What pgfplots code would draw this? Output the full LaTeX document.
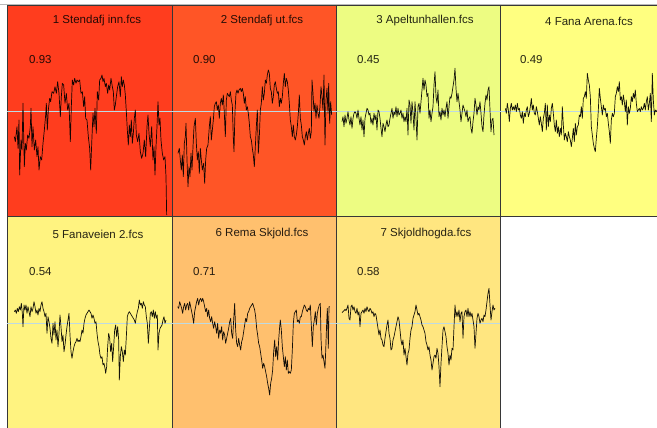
\documentclass[border=0pt]{standalone}
\usepackage{pgfplots}
\pgfplotsset{compat=1.18}
\usepackage{fontspec}
\setmainfont{Liberation Sans}
\definecolor{c1}{RGB}{255,61,30}
\definecolor{c2}{RGB}{255,85,38}
\definecolor{c3}{RGB}{237,252,130}
\definecolor{c4}{RGB}{255,255,128}
\definecolor{c5}{RGB}{255,243,128}
\definecolor{c6}{RGB}{255,192,110}
\definecolor{c7}{RGB}{255,230,128}
\definecolor{refc}{RGB}{190,218,226}
\definecolor{framec}{RGB}{55,55,55}
\pgfplotsset{
  panel/.style={scale only axis, y dir=reverse, xtick=\empty, ytick=\empty,
    anchor=north west, axis line style={draw=framec, line width=0.8pt},
    clip=true},
  series/.style={black, line width=0.7pt, line join=round, no markers, opacity=0.92},
  refl/.style={refc, line width=1.2pt, no markers},
}
\newcommand{\ttl}[3]{\node[font=\fontsize{11.5}{13}\selectfont, text=black, text opacity=0.85, anchor=center] at (#1pt,-#2pt) {#3};}
\newcommand{\val}[3]{\node[font=\fontsize{11.5}{13}\selectfont, text=black, text opacity=0.85, anchor=west, inner sep=0pt] at (#1pt,-#2pt) {#3};}
\begin{document}
\begin{tikzpicture}
\useasboundingbox (0pt,0pt) rectangle (657pt,-428pt);
\clip (0pt,0pt) rectangle (657pt,-428pt);
\fill[white] (0pt,0pt) rectangle (657pt,-428pt);
% Panel 1
\begin{axis}[panel, at={(7pt,-5pt)}, width=165pt, height=211.5pt,
  xmin=0, xmax=495, ymin=-165, ymax=469.5, axis background/.style={fill=c1}]
\addplot[refl] coordinates {(0,155) (495,155)};
\addplot[series] coordinates {
(22,230) (25,245) (30,200) (33,265) (36,180) (38,345) (42,240) (45,270) (48,130) (52,320) (55,250) (58,270) (62,225) (66,235) (70,200) (72,145) (75,260) (78,200) (82,270) (86,240) (90,290) (93,260) (96,330) (100,290) (104,300) (108,250) (112,210) (116,165) (118,130) (121,210) (124,150) (128,115) (131,125) (135,95) (140,100) (144,80) (148,100) (152,65) (156,100) (160,170) (163,110) (166,70) (170,75) (174,130) (178,100) (182,150) (186,130) (190,245) (193,140) (196,60) (200,75) (203,55) (207,70) (210,60) (214,65) (218,60) (222,100) (226,95) (230,140) (233,110) (236,175) (240,180) (244,230) (248,265) (251,330) (255,230) (258,160) (261,200) (264,145) (268,220) (271,95) (275,120) (278,60) (282,55) (285,45) (288,65) (291,55) (295,80) (298,70) (302,100) (305,75) (308,90) (312,55) (316,80) (319,95) (322,150) (325,135) (328,110) (332,80) (336,65) (340,110) (343,50) (346,80) (349,60) (352,75) (355,105) (358,155) (361,210) (364,255) (367,195) (370,230) (373,180) (376,250) (379,220) (382,175) (385,150) (388,225) (392,245) (396,220) (400,275) (404,295) (408,280) (412,240) (416,290) (420,200) (423,165) (426,220) (430,260) (434,200) (438,300) (441,260) (444,345) (447,260) (450,200) (453,125) (456,195) (459,175) (462,240) (466,280) (470,300) (474,290) (477,350) (479,465)
};
\end{axis}
% Panel 2
\begin{axis}[panel, at={(172pt,-5pt)}, width=164pt, height=211.5pt,
  xmin=0, xmax=492, ymin=-165, ymax=469.5, axis background/.style={fill=c2}]
\addplot[refl] coordinates {(0,155) (492,155)};
\addplot[series] coordinates {
(18,280) (22,265) (25,300) (28,330) (31,285) (34,350) (37,250) (40,230) (42,190) (45,300) (48,380) (51,320) (54,350) (57,280) (60,330) (63,260) (66,200) (70,175) (73,250) (76,300) (79,275) (82,340) (85,265) (88,300) (91,330) (95,310) (98,370) (101,300) (104,265) (108,255) (112,200) (115,170) (118,240) (121,210) (124,180) (127,140) (130,130) (133,125) (136,150) (139,135) (142,175) (145,130) (148,115) (151,135) (154,105) (157,160) (160,230) (163,120) (166,100) (169,105) (172,110) (175,95) (178,120) (181,135) (184,235) (186,275) (189,155) (192,100) (195,90) (198,100) (201,90) (205,85) (208,95) (211,85) (214,100) (217,130) (220,110) (223,150) (226,140) (229,160) (232,190) (235,230) (238,240) (241,265) (244,285) (247,320) (250,260) (253,200) (256,150) (259,280) (262,230) (265,150) (268,130) (271,80) (274,120) (277,100) (280,60) (283,70) (286,45) (289,30) (292,40) (295,85) (298,95) (301,130) (304,110) (307,75) (310,65) (313,85) (316,100) (319,95) (322,140) (325,115) (328,130) (331,110) (334,70) (337,40) (340,80) (343,55) (346,65) (349,90) (352,130) (355,180) (358,200) (361,230) (364,195) (367,230) (370,240) (373,225) (376,200) (379,160) (382,105) (385,175) (388,195) (391,230) (394,240) (397,255) (400,230) (403,215) (406,240) (409,220) (412,205) (415,235) (418,215) (420,60) (423,100) (426,155) (429,130) (432,175) (435,135) (438,160) (441,175) (444,140) (447,80) (450,110) (453,150) (456,45) (459,255) (462,120) (465,85) (468,160) (470,70) (473,190) (476,125) (479,165)
};
\end{axis}
% Panel 3
\begin{axis}[panel, at={(336pt,-5pt)}, width=164pt, height=211.5pt,
  xmin=0, xmax=492, ymin=-165, ymax=469.5, axis background/.style={fill=c3}]
\addplot[refl] coordinates {(0,155) (492,155)};
\addplot[series] coordinates {
(18,185) (21,170) (24,200) (27,165) (30,190) (33,175) (36,155) (39,180) (42,195) (45,170) (48,205) (51,175) (54,160) (57,155) (60,160) (63,175) (66,150) (69,175) (72,195) (75,170) (78,210) (81,180) (84,230) (87,175) (90,160) (93,145) (96,150) (99,165) (102,160) (105,190) (108,175) (111,195) (114,160) (117,180) (120,165) (123,210) (126,150) (129,155) (132,175) (135,205) (138,230) (141,190) (144,200) (147,215) (150,195) (153,180) (156,200) (159,195) (162,175) (165,160) (168,145) (171,175) (174,155) (177,165) (180,140) (183,170) (186,145) (189,165) (192,160) (195,150) (198,175) (201,160) (204,185) (207,170) (210,185) (213,145) (216,225) (219,120) (222,135) (225,190) (228,125) (231,160) (234,210) (237,125) (240,175) (243,240) (246,140) (249,130) (252,160) (255,125) (258,90) (261,55) (264,90) (267,60) (270,75) (273,110) (276,100) (279,175) (282,150) (285,185) (288,160) (291,140) (294,75) (297,35) (300,110) (303,130) (306,90) (309,170) (312,155) (315,180) (318,145) (321,165) (324,150) (327,170) (330,145) (333,125) (336,175) (339,140) (342,110) (345,115) (348,100) (351,80) (354,60) (357,25) (360,85) (363,125) (366,100) (369,125) (372,150) (375,185) (378,160) (381,135) (384,145) (387,155) (390,170) (393,150) (396,185) (399,175) (402,170) (405,205) (408,220) (411,185) (414,160) (417,115) (420,135) (423,165) (426,140) (429,150) (432,125) (435,160) (438,200) (441,215) (444,165) (447,130) (450,105) (453,120) (456,90) (459,80) (462,150) (465,215) (468,180) (471,175) (474,225)
};
\end{axis}
% Panel 4
\begin{axis}[panel, at={(500pt,-5pt)}, width=164pt, height=211.5pt,
  xmin=492, xmax=984, ymin=-165, ymax=469.5, axis background/.style={fill=c4}]
\addplot[refl] coordinates {(492,155) (984,155)};
\addplot[series] coordinates {
(508,145) (511,160) (514,130) (517,150) (520,185) (523,145) (526,130) (529,150) (532,140) (535,150) (538,135) (541,155) (544,130) (547,150) (550,145) (553,165) (556,175) (559,155) (562,190) (565,160) (568,170) (571,150) (574,140) (577,170) (580,160) (583,140) (586,115) (589,150) (592,135) (595,160) (598,165) (601,140) (604,155) (607,175) (610,195) (613,170) (616,190) (619,215) (622,175) (625,160) (628,130) (631,210) (634,135) (637,200) (640,165) (643,185) (646,145) (649,130) (652,160) (655,195) (658,215) (661,180) (664,220) (667,200) (670,230) (673,205) (676,225) (679,140) (682,195) (685,240) (688,220) (691,230) (694,245) (697,215) (700,230) (703,240) (706,260) (709,235) (712,205) (715,245) (718,190) (721,225) (724,200) (727,195) (730,165) (733,170) (736,140) (739,175) (742,115) (745,110) (748,95) (751,115) (754,40) (757,60) (760,75) (763,110) (766,200) (769,225) (772,250) (775,265) (778,275) (781,235) (784,200) (787,150) (790,85) (793,115) (796,140) (799,165) (802,135) (805,150) (808,145) (811,170) (814,160) (817,190) (820,215) (823,250) (826,180) (829,160) (832,170) (835,160) (838,110) (841,100) (844,80) (847,95) (850,65) (853,120) (856,110) (859,135) (862,105) (865,125) (868,155) (871,120) (874,195) (877,140) (880,160) (883,145) (886,110) (889,125) (892,100) (895,115) (898,90) (901,130) (904,155) (907,150) (910,145) (913,155) (916,140) (919,150) (922,145) (925,130) (928,150) (931,125) (934,110) (937,150) (940,130) (943,100) (946,185) (949,40) (952,120) (955,165) (958,150) (961,155) (964,150)
};
\end{axis}
% Panel 5
\begin{axis}[panel, at={(7pt,-216.5pt)}, width=165pt, height=223.5pt,
  xmin=0, xmax=495, ymin=-190.5, ymax=480, axis background/.style={fill=c5}]
\addplot[refl] coordinates {(0,131) (495,131)};
\addplot[series] coordinates {
(22,95) (25,90) (28,100) (31,85) (34,95) (37,80) (40,90) (43,70) (46,100) (48,140) (51,75) (54,90) (57,75) (60,100) (63,80) (66,95) (69,110) (72,80) (75,95) (78,85) (81,65) (84,80) (87,100) (90,90) (93,105) (96,85) (99,95) (102,75) (105,65) (108,85) (111,95) (114,110) (117,100) (120,160) (123,110) (126,125) (129,145) (132,175) (135,190) (138,130) (141,165) (144,125) (147,180) (150,150) (153,200) (156,160) (159,105) (162,140) (165,185) (168,165) (171,215) (174,195) (177,165) (180,140) (183,120) (186,100) (189,165) (192,215) (195,235) (198,215) (201,200) (204,190) (207,185) (210,175) (213,185) (216,180) (219,185) (222,170) (225,150) (228,160) (231,130) (234,115) (237,105) (240,100) (243,95) (246,90) (249,95) (252,100) (255,115) (258,105) (261,115) (264,130) (267,125) (270,160) (273,185) (276,200) (279,225) (282,235) (285,230) (288,255) (291,250) (294,265) (296,280) (299,260) (302,200) (305,160) (308,175) (311,215) (314,190) (317,245) (320,200) (323,150) (326,135) (329,170) (332,140) (335,180) (337,300) (340,230) (343,200) (346,215) (349,245) (352,210) (355,225) (358,170) (361,110) (364,100) (367,95) (370,100) (373,105) (376,110) (379,115) (382,120) (385,130) (388,110) (391,95) (394,85) (397,60) (400,75) (403,70) (406,85) (409,65) (412,75) (415,80) (418,110) (421,130) (424,190) (427,145) (430,100) (433,95) (436,110) (439,90) (442,115) (445,95) (448,115) (451,105) (453,210) (456,160) (459,145) (462,140) (465,135) (468,120) (471,110) (474,130) (477,120)
};
\end{axis}
% Panel 6
\begin{axis}[panel, at={(172pt,-216.5pt)}, width=164pt, height=223.5pt,
  xmin=495, xmax=987, ymin=-190.5, ymax=480, axis background/.style={fill=c6}]
\addplot[refl] coordinates {(495,131) (987,131)};
\addplot[series] coordinates {
(512,80) (515,85) (518,65) (521,75) (524,85) (527,100) (530,80) (533,70) (536,90) (539,75) (542,70) (545,90) (548,65) (551,80) (554,95) (557,110) (560,130) (563,95) (566,80) (569,65) (572,55) (575,75) (578,60) (581,55) (584,65) (587,55) (590,65) (593,80) (596,95) (599,85) (602,110) (605,90) (608,115) (611,125) (614,110) (617,130) (620,145) (623,125) (626,140) (629,160) (632,130) (635,175) (638,150) (641,160) (644,140) (647,180) (650,155) (653,165) (656,190) (659,175) (662,160) (665,145) (668,125) (671,115) (674,160) (677,175) (680,120) (683,70) (686,150) (689,190) (692,200) (695,175) (698,195) (701,210) (704,185) (707,175) (710,155) (713,135) (716,115) (719,125) (722,100) (725,95) (728,85) (731,80) (734,75) (737,70) (740,80) (743,90) (746,110) (749,145) (752,165) (755,190) (758,200) (761,220) (764,240) (767,265) (770,250) (773,260) (776,275) (779,290) (782,310) (785,325) (788,345) (791,310) (794,295) (797,270) (800,215) (803,180) (806,230) (809,200) (812,240) (815,180) (818,140) (820,120) (823,150) (826,200) (829,230) (832,260) (835,230) (838,270) (841,240) (844,280) (847,275) (850,280) (853,270) (856,210) (859,130) (862,100) (865,95) (868,90) (871,125) (874,120) (877,130) (880,110) (883,110) (886,95) (889,85) (892,75) (895,80) (898,90) (901,95) (904,85) (907,90) (910,75) (913,135) (916,200) (919,140) (922,120) (925,95) (928,135) (931,100) (934,85) (937,75) (940,70) (942,175) (945,235) (948,225) (951,245) (954,265) (956,215) (959,130) (961,85) (964,205) (966,80) (969,80)
};
\end{axis}
% Panel 7
\begin{axis}[panel, at={(336pt,-216.5pt)}, width=164pt, height=223.5pt,
  xmin=0, xmax=492, ymin=-190.5, ymax=480, axis background/.style={fill=c7}]
\addplot[refl] coordinates {(0,131) (492,131)};
\addplot[series] coordinates {
(18,98) (21,95) (24,92) (27,88) (30,92) (33,85) (36,75) (39,115) (42,120) (45,80) (48,75) (51,90) (54,80) (57,95) (60,100) (63,85) (66,105) (69,95) (72,140) (75,100) (78,95) (81,90) (84,100) (87,85) (90,95) (93,80) (96,90) (99,95) (102,85) (105,90) (108,100) (111,95) (114,110) (117,100) (120,105) (123,125) (126,145) (129,165) (132,150) (135,175) (138,180) (141,195) (144,200) (147,175) (150,155) (153,135) (156,120) (159,160) (162,175) (165,210) (168,205) (171,180) (174,170) (177,155) (180,140) (183,125) (186,110) (189,120) (192,150) (195,180) (198,195) (201,180) (204,225) (207,205) (210,230) (213,255) (216,220) (219,210) (222,175) (225,150) (228,140) (231,115) (234,105) (237,95) (240,75) (243,90) (246,105) (249,100) (252,110) (255,120) (258,135) (261,140) (264,150) (267,160) (270,185) (273,195) (276,210) (279,200) (282,225) (285,240) (288,270) (291,250) (294,230) (297,225) (300,235) (303,205) (306,220) (309,260) (312,320) (315,250) (318,200) (321,150) (324,140) (327,155) (330,170) (333,200) (336,220) (339,255) (342,225) (345,240) (348,205) (351,210) (354,140) (357,75) (360,110) (363,95) (366,110) (369,90) (372,125) (375,100) (378,95) (381,175) (384,110) (387,95) (390,90) (393,110) (396,85) (399,110) (402,95) (405,110) (408,100) (411,120) (414,140) (417,205) (420,160) (423,115) (426,100) (429,110) (432,130) (435,120) (438,115) (441,125) (444,105) (447,110) (450,90) (453,65) (456,40) (459,25) (462,75) (465,120) (468,95) (471,75) (474,90) (477,85)
};
\end{axis}
\draw[gray!55, line width=0.8pt] (0pt,-4.5pt) -- (657pt,-4.5pt);
% texts
\ttl{97}{21}{1 Stendafj inn.fcs}
\ttl{262}{21}{2 Stendafj ut.fcs}
\ttl{425}{21}{3 Apeltunhallen.fcs}
\ttl{589}{21}{4 Fana Arena.fcs}
\ttl{98}{234}{5 Fanaveien 2.fcs}
\ttl{262}{234}{6 Rema Skjold.fcs}
\ttl{426}{234}{7 Skjoldhogda.fcs}
\val{29}{59.5}{0.93}
\val{193}{59.5}{0.90}
\val{357}{59.5}{0.45}
\val{520}{59.5}{0.49}
\val{29}{272}{0.54}
\val{193}{272}{0.71}
\val{357}{272}{0.58}
\end{tikzpicture}
\end{document}
